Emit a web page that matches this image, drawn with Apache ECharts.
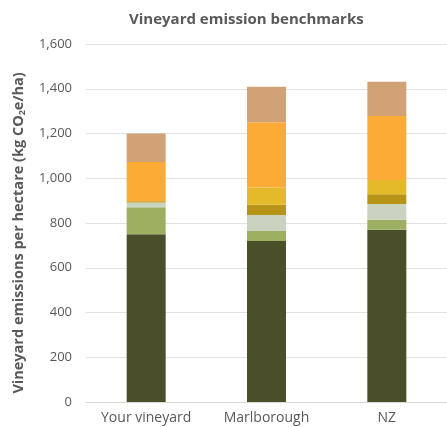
<!DOCTYPE html>
<html>
<head>
<meta charset="utf-8">
<script src="https://cdn.jsdelivr.net/npm/echarts@6/dist/echarts.min.js"></script>
<style>
  html, body { margin: 0; padding: 0; background: #fff; }
  #chart { width: 447px; height: 427px; }
</style>
</head>
<body>
<div id="chart"></div>
<script>
// Vineyard emission benchmarks (kg CO2e per hectare), stacked by source
const categories = ['Your vineyard', 'Marlborough', 'NZ'];
const yTicks = [0, 200, 400, 600, 800, 1000, 1200, 1400, 1600];

const sourceA = [750, 720, 770];
const sourceB = [120, 44, 44];
const sourceC = [22, 72, 71];
const sourceD = [5, 46, 43];
const sourceE = [0, 77, 64];
const sourceF = [176, 291, 286];
const sourceG = [127, 159, 153];

const stackParts = [
  { name: 'Source A', data: sourceA, color: '#4a4f29' },
  { name: 'Source B', data: sourceB, color: '#9daf60' },
  { name: 'Source C', data: sourceC, color: '#c9d3bf' },
  { name: 'Source D', data: sourceD, color: '#b69417' },
  { name: 'Source E', data: sourceE, color: '#e4ba2b' },
  { name: 'Source F', data: sourceF, color: '#fcab37' },
  { name: 'Source G', data: sourceG, color: '#d0a275' }
];

const font = '"Open Sans", sans-serif';
const textColor = '#595959';
const chart = echarts.init(document.getElementById('chart'));

chart.setOption({
  animation: false,
  title: {
    text: 'Vineyard emission benchmarks',
    left: 124,
    top: 7,
    textStyle: { fontFamily: font, fontSize: 15, fontWeight: 'bold', color: textColor }
  },
  grid: { left: 86, right: -9, top: 44, bottom: 25 },
  xAxis: {
    type: 'category',
    data: categories,
    axisLine: { lineStyle: { color: '#d9d9d9', width: 1 } },
    axisTick: { show: false },
    axisLabel: { fontFamily: font, fontSize: 14, color: textColor, margin: 9 }
  },
  yAxis: {
    type: 'value',
    min: yTicks[0],
    max: yTicks[yTicks.length - 1],
    interval: yTicks[1] - yTicks[0],
    axisLine: { show: false },
    axisTick: { show: false },
    splitLine: { lineStyle: { color: '#e3e3e3', width: 1 } },
    axisLabel: {
      fontFamily: font, fontSize: 13, color: textColor, margin: 14,
      formatter: v => v.toLocaleString('en-US')
    }
  },
  // Rotated y-axis title with a subscript "2" in CO2e
  graphic: [{
    type: 'text',
    x: 19,
    y: 233,
    rotation: Math.PI / 2,
    style: {
      text: '{t|Vineyard emissions per hectare (kg CO}{s|2}{t|e/ha)}',
      align: 'center',
      verticalAlign: 'middle',
      rich: {
        t: { fontFamily: font, fontSize: 14.5, fontWeight: 'bold', fill: textColor },
        s: { fontFamily: font, fontSize: 9, fontWeight: 'bold', fill: textColor, padding: [7, 0, 0, 0] }
      }
    }
  }],
  series: stackParts.map(p => ({
    name: p.name,
    type: 'bar',
    stack: 'total',
    barWidth: 39,
    data: p.data,
    itemStyle: { color: p.color }
  }))
});
</script>
</body>
</html>
